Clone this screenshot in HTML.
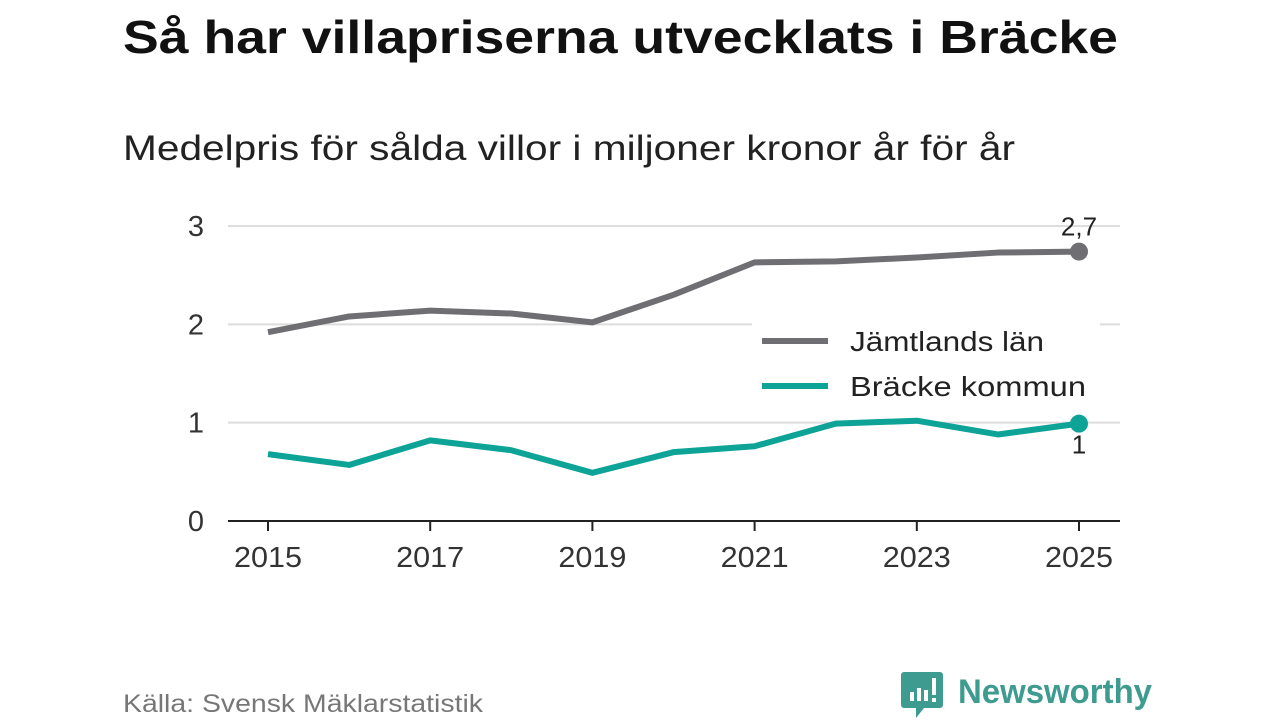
<!DOCTYPE html>
<html><head><meta charset="utf-8"><style>
body{margin:0;width:1280px;height:720px;background:#fff;font-family:"Liberation Sans",sans-serif;overflow:hidden}
</style></head><body>
<svg width="1280" height="720" viewBox="0 0 1280 720">
<text x="123" y="53" font-size="46" font-weight="bold" fill="#111" textLength="995" lengthAdjust="spacingAndGlyphs">Så har villapriserna utvecklats i Bräcke</text>
<text x="123" y="160" font-size="35" fill="#222" textLength="892" lengthAdjust="spacingAndGlyphs">Medelpris för sålda villor i miljoner kronor år för år</text>
<g id="grid"></g><g id="series"></g><g id="ticks"></g>
<g>
<rect x="752" y="322" width="348" height="90" fill="#fff"/>
<line x1="762" y1="341" x2="828" y2="341" stroke="#6f6e73" stroke-width="6"/>
<text x="850" y="351" font-size="28" fill="#222" textLength="194" lengthAdjust="spacingAndGlyphs">Jämtlands län</text>
<line x1="762" y1="386" x2="828" y2="386" stroke="#0ea397" stroke-width="6"/>
<text x="850" y="396" font-size="28" fill="#222" textLength="236" lengthAdjust="spacingAndGlyphs">Bräcke kommun</text>
</g>
<text x="123" y="712" font-size="25" fill="#777" textLength="360" lengthAdjust="spacingAndGlyphs">Källa: Svensk Mäklarstatistik</text>
<g>
<path d="M904 672 h36 a3 3 0 0 1 3 3 v30 a3 3 0 0 1 -3 3 h-16 l-8 10 v-10 h-12 a3 3 0 0 1 -3 -3 v-30 a3 3 0 0 1 3 -3z" fill="#3e9b90"/>
<rect x="910" y="692" width="4" height="9" fill="#fff"/><rect x="917" y="688" width="4" height="13" fill="#fff"/><rect x="924" y="690" width="4" height="11" fill="#fff"/><rect x="932" y="678" width="4" height="17" fill="#fff"/><rect x="932" y="698" width="4" height="4" fill="#fff"/>
<text x="958" y="703" font-size="34" font-weight="bold" fill="#3e9b90" textLength="194" lengthAdjust="spacingAndGlyphs">Newsworthy</text>
</g>
</svg>
<script>
const years=[2015,2016,2017,2018,2019,2020,2021,2022,2023,2024,2025];
const jamtland=[1.92,2.08,2.14,2.11,2.02,2.30,2.63,2.64,2.68,2.73,2.74];
const bracke=[0.68,0.57,0.82,0.72,0.49,0.70,0.76,0.99,1.02,0.88,0.99];
const yTicks=[0,1,2,3];
const xTicks=[2015,2017,2019,2021,2023,2025];
const NS="http://www.w3.org/2000/svg";
const X=v=>268+(v-2015)*81.1, Y=v=>521-v*98.33;
function mk(p,t,a){const e=document.createElementNS(NS,t);for(const k in a)e.setAttribute(k,a[k]);document.getElementById(p).appendChild(e);return e;}
yTicks.forEach(t=>{
 if(t>0){const g=mk('grid','line',{x1:228,x2:1120,y1:Y(t),y2:Y(t),stroke:'#ddd','stroke-width':2});
 
 }
 const l=mk('ticks','text',{x:204,y:Y(t)+10,'font-size':29,fill:'#333','text-anchor':'end'});l.textContent=t;
 
 
});
const ax=mk('ticks','line',{x1:228,x2:1120,y1:521,y2:521,stroke:'#222','stroke-width':2});


xTicks.forEach(t=>{
 mk('ticks','line',{x1:X(t),x2:X(t),y1:521,y2:531,stroke:'#222','stroke-width':2});
 const l=mk('ticks','text',{x:X(t),y:567,'font-size':29,fill:'#333','text-anchor':'middle',textLength:68,lengthAdjust:'spacingAndGlyphs'});l.textContent=t;
 
 
});
function line(vals,col,name,label,dy){
 const p=mk('series','polyline',{points:vals.map((v,i)=>X(years[i])+','+Y(v)).join(' '),fill:'none',stroke:col,'stroke-width':6,'stroke-linejoin':'round'});
 
 
 const n=vals.length-1;
 const c=mk('series','circle',{cx:X(years[n]),cy:Y(vals[n]),r:9,fill:col});
 
 
 const t=mk('series','text',{x:X(years[n]),y:Y(vals[n])+dy,'font-size':26,fill:'#222','text-anchor':'middle'});
 t.textContent=label;
 
 
}
line(jamtland,'#6f6e73','jamtland-line',jamtland[jamtland.length-1].toFixed(1).replace('.',','),-16);
line(bracke,'#0ea397','bracke-line',Math.round(bracke[bracke.length-1]),30);
</script>
</body></html>
